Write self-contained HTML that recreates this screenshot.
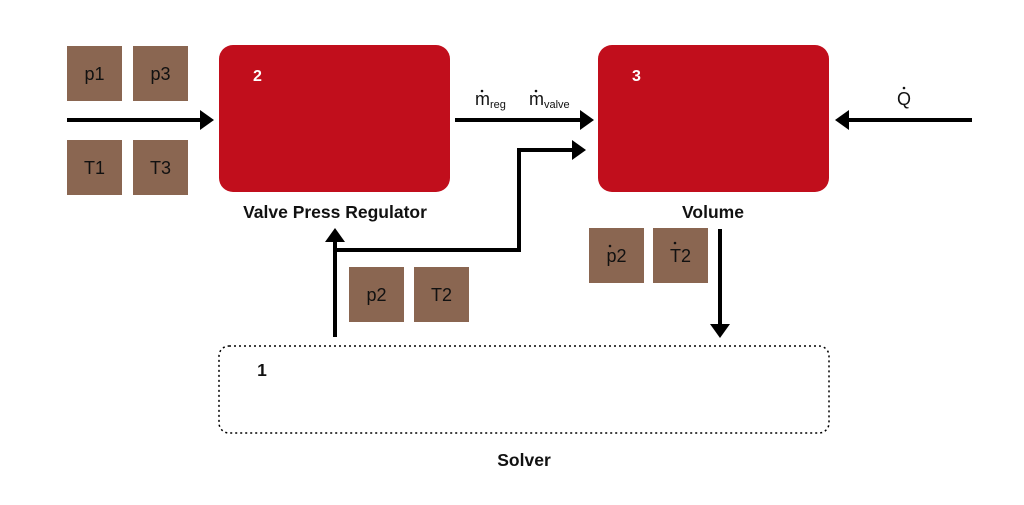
<!DOCTYPE html>
<html><head><meta charset="utf-8"><style>
html,body{margin:0;padding:0;background:#fff;width:1024px;height:505px;overflow:hidden}
text{font-family:"Liberation Sans",sans-serif}
</style></head><body>
<svg width="1024" height="505" viewBox="0 0 1024 505">
<rect x="219" y="45" width="231" height="147" rx="14" fill="#c10e1c"/>
<rect x="598" y="45" width="231" height="147" rx="14" fill="#c10e1c"/>
<text x="253" y="81" font-size="16" font-weight="bold" fill="#fff">2</text>
<text x="632" y="81" font-size="16" font-weight="bold" fill="#fff">3</text>
<g fill="#8a6651">
<rect x="67" y="46" width="55" height="55"/><rect x="133" y="46" width="55" height="55"/>
<rect x="67" y="140" width="55" height="55"/><rect x="133" y="140" width="55" height="55"/>
<rect x="349" y="267" width="55" height="55"/><rect x="414" y="267" width="55" height="55"/>
<rect x="589" y="228" width="55" height="55"/><rect x="653" y="228" width="55" height="55"/>
</g>
<g font-size="18" fill="#111" text-anchor="middle">
<text x="94.5" y="80">p1</text><text x="160.5" y="80">p3</text>
<text x="94.5" y="174">T1</text><text x="160.5" y="174">T3</text>
<text x="376.5" y="301">p2</text><text x="441.5" y="301">T2</text>
<text x="616.5" y="262">p2</text><text x="680.5" y="262">T2</text>
</g>
<circle cx="610" cy="246" r="1.3" fill="#111"/>
<circle cx="675" cy="243" r="1.3" fill="#111"/>
<g stroke="#000" stroke-width="4" fill="none">
<line x1="67" y1="120" x2="202" y2="120"/>
<line x1="455" y1="120" x2="582" y2="120"/>
<line x1="972" y1="120" x2="848" y2="120"/>
<polyline points="335,337 335,240"/>
<polyline points="335,250 519,250 519,150 574,150"/>
<line x1="720" y1="229" x2="720" y2="325"/>
</g>
<g fill="#000">
<polygon points="214,120 200,110 200,130"/>
<polygon points="594,120 580,110 580,130"/>
<polygon points="835,120 849,110 849,130"/>
<polygon points="586,150 572,140 572,160"/>
<polygon points="335,228 325,242 345,242"/>
<polygon points="720,338 710,324 730,324"/>
</g>
<rect x="219" y="346" width="610" height="87" rx="10" fill="none" stroke="#000" stroke-width="1.5" stroke-dasharray="2,3"/>
<g font-size="17.5" font-weight="bold" fill="#111" text-anchor="middle">
<text x="335" y="218">Valve Press Regulator</text>
<text x="713" y="218">Volume</text>
<text x="524" y="466">Solver</text>
<text x="262" y="376">1</text>
</g>
<g fill="#111">
<text x="475" y="105" font-size="18">m</text><text x="490" y="108" font-size="11">reg</text>
<circle cx="482" cy="91" r="1.3"/>
<text x="529" y="105" font-size="18">m</text><text x="544" y="108" font-size="11">valve</text>
<circle cx="536" cy="91" r="1.3"/>
<text x="897" y="105" font-size="18">Q</text>
<circle cx="904" cy="88" r="1.3"/>
</g>
</svg>
</body></html>
